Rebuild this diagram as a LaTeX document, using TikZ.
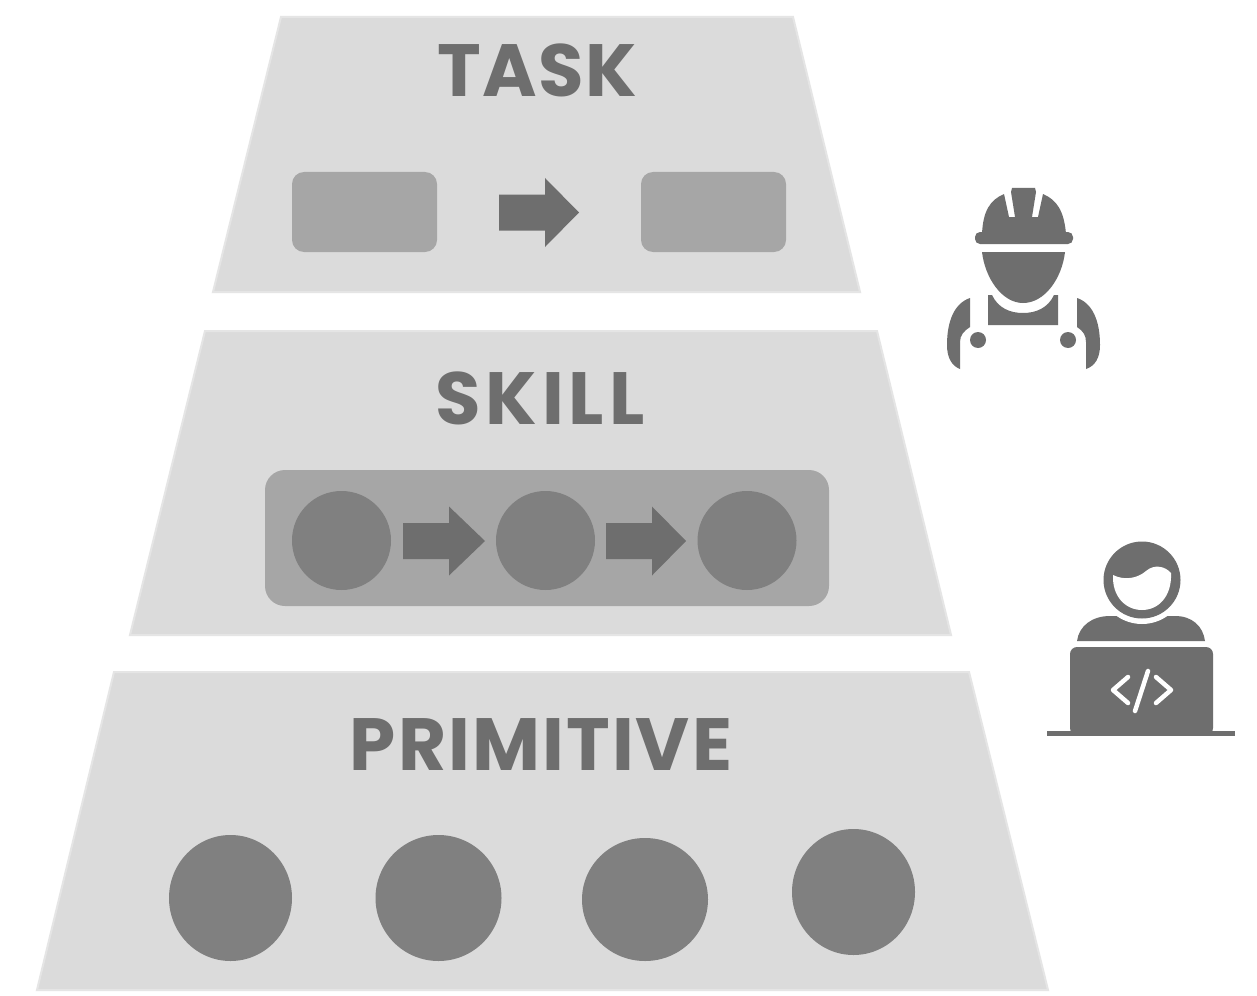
\documentclass[tikz,border=0pt]{standalone}
\usepackage{fontspec}
\setmainfont{Poppins}[BoldFont={Poppins Bold}]
\definecolor{tier}{HTML}{DBDBDB}
\definecolor{tieredge}{HTML}{E5E5E5}
\definecolor{panel}{HTML}{A6A6A6}
\definecolor{disc}{HTML}{808080}
\definecolor{ink}{HTML}{6E6E6E}
\tikzset{
  tierbox/.style={fill=tier,draw=tieredge,line width=2pt,line join=miter},
  panelbox/.style={fill=panel},
  discshape/.style={fill=disc},
  blockarrow/.style={fill=ink},
  iconfill/.style={fill=ink},
  iconcut/.style={draw=white,line width=4.5pt,line cap=round,line join=round},
  title/.style={font=\bfseries\fontsize{74}{74}\selectfont,text=ink,inner sep=0pt,anchor=base},
}
\newcommand{\blockarr}[3]{% left x, centre y, length
  \fill[blockarrow,shift={(#1,#2)}] (0,-18) -- (46,-18) -- (46,-34.5) -- (#3,0) -- (46,34.5) -- (46,18) -- (0,18) -- cycle;}
\begin{document}
\begin{tikzpicture}[x=1pt,y=-1pt]
\useasboundingbox (0,0) rectangle (1257,995);
\fill[white] (0,0) rectangle (1257,995);
% tiers
\draw[tierbox] (281,17) -- (793,17) -- (860,292) -- (213,292) -- cycle;
\draw[tierbox] (205,331) -- (877,331) -- (951,635) -- (130,635) -- cycle;
\draw[tierbox] (114,672) -- (969,672) -- (1048,990) -- (37,990) -- cycle;
% titles
\node[title] (task) at (537,97) {\addfontfeature{LetterSpace=2}TASK};
\node[title] (skill) at (540,424) {\addfontfeature{LetterSpace=6.5}SKILL};
\node[title] (primitive) at (541,770) {\addfontfeature{LetterSpace=2.8}PRIMITIVE};
% task row
\fill[panelbox,rounded corners=12pt] (292,172) rectangle (437,252);
\fill[panelbox,rounded corners=12pt] (641,172) rectangle (786,252);
\blockarr{499}{212.5}{80}
% skill row
\fill[panelbox,rounded corners=20pt] (265,470) rectangle (829,606);
\fill[discshape] (341.5,540.5) circle[radius=49.5];
\fill[discshape] (545.5,540.5) circle[radius=49.5];
\fill[discshape] (747,540.5) circle[radius=49.5];
\blockarr{403}{541}{82}
\blockarr{606}{541}{80}
% primitive row
\fill[discshape] (230.5,898) ellipse[x radius=61.5,y radius=63];
\fill[discshape] (438.5,898) circle[radius=63];
\fill[discshape] (645,899.5) ellipse[x radius=63,y radius=61.5];
\fill[discshape] (853.5,892) ellipse[x radius=61.5,y radius=63];
% worker: helmet
\fill[iconfill] (982,234) .. controls (983,211) and (990,200) .. (1004,194) -- (1009,217) -- (1015,217) -- (1011,192) -- (1012,188) -- (1035,188) -- (1036,192) -- (1032,217) -- (1038,217) -- (1043,194) .. controls (1057,200) and (1064,211) .. (1066,234) -- cycle;
\fill[iconfill,rounded corners=5pt] (975,232) rectangle (1073,244);
% worker: face
\fill[iconfill] (982,252) -- (1065,252) .. controls (1062,278) and (1045,303) .. (1023,303) .. controls (1002,303) and (985,278) .. (982,252) -- cycle;
% worker: bib
\fill[iconfill] (988,295) -- (992,295) .. controls (998,308) and (1010,313) .. (1023,313) .. controls (1036,313) and (1048,308) .. (1054,295) -- (1058,295) -- (1058,325) -- (988,325) -- cycle;
% worker: straps and buttons
\fill[iconfill] (970,298) -- (970,327) .. controls (964,331) and (960,335) .. (960,342) -- (960,369) .. controls (952,366) and (947,358) .. (947,345) .. controls (947,320) and (955,303) .. (970,298) -- cycle;
\fill[iconfill] (1077,298) -- (1077,327) .. controls (1083,331) and (1086,335) .. (1086,342) -- (1086,369) .. controls (1095,366) and (1100,358) .. (1100,345) .. controls (1100,320) and (1092,303) .. (1077,298) -- cycle;
\fill[iconfill] (978,340) circle[radius=8];
\fill[iconfill] (1068,340) circle[radius=8];
% coder: shoulders, head
\fill[iconfill] (1077,641) .. controls (1079,626) and (1092,616) .. (1110,616) -- (1175,616) .. controls (1192,616) and (1203,626) .. (1205,641) -- cycle;
\fill[white] (1142,580) circle[radius=44];
\fill[iconfill] (1142,580) circle[radius=38.5];
\fill[white] (1113,575) .. controls (1125,581) and (1138,578) .. (1146,571) .. controls (1154,564) and (1165,566) .. (1171,573) .. controls (1172,597) and (1158,610) .. (1142,610) .. controls (1126,610) and (1112,597) .. (1113,575) -- cycle;
% coder: laptop
\fill[iconfill,rounded corners=7pt] (1070,647) -- (1213,647) -- (1213,735) -- (1070,735) -- cycle;
\fill[iconfill] (1047,731) rectangle (1235,735.5);
\draw[iconcut] (1128,677) -- (1113,690) -- (1128,703);
\draw[iconcut] (1156,677) -- (1171,690) -- (1156,703);
\draw[iconcut] (1148,671) -- (1135,711);
\end{tikzpicture}
\end{document}
